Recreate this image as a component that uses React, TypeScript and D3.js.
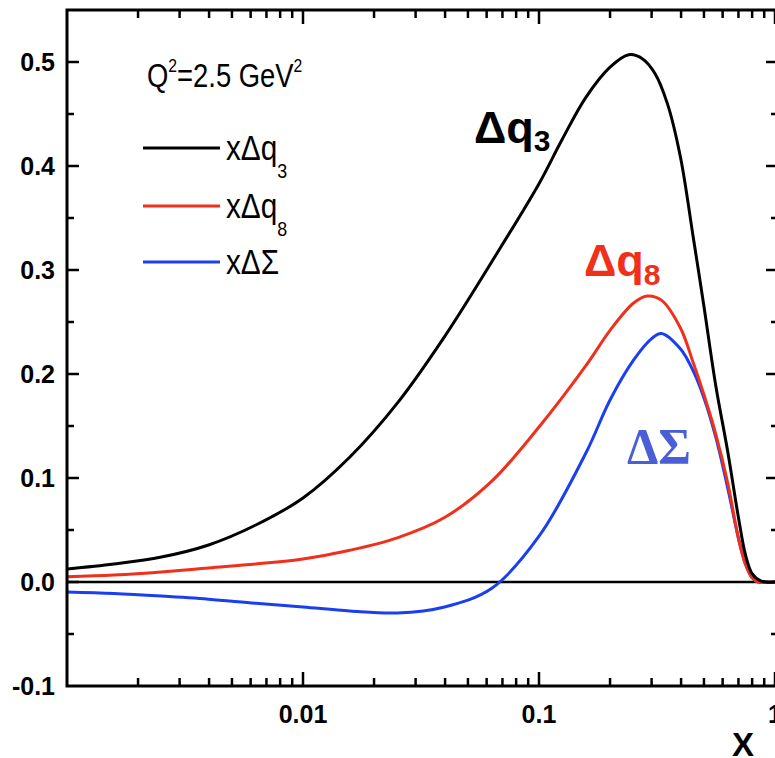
import React, { useEffect, useRef } from 'react';
import * as d3 from 'd3';

// x Δq3 (black)
const xQ3 = [0.001, 0.00158, 0.00251, 0.00398, 0.00631, 0.01, 0.0158, 0.0251, 0.0398, 0.0631, 0.1, 0.125, 0.158, 0.2, 0.24, 0.275, 0.31, 0.35, 0.398, 0.45, 0.5, 0.56, 0.631, 0.7, 0.75, 0.8, 0.87, 1];
const yQ3 = [0.0125, 0.0173, 0.024, 0.0356, 0.0548, 0.0808, 0.1202, 0.172, 0.236, 0.308, 0.383, 0.425, 0.466, 0.495, 0.507, 0.503, 0.489, 0.46, 0.408, 0.332, 0.265, 0.19, 0.125, 0.062, 0.026, 0.008, 0.001, 0];

// x Δq8 (red)
const xQ8 = [0.001, 0.00158, 0.00251, 0.00398, 0.00631, 0.01, 0.0158, 0.0251, 0.0398, 0.0631, 0.1, 0.158, 0.2, 0.251, 0.287, 0.33, 0.398, 0.45, 0.5, 0.56, 0.631, 0.7, 0.75, 0.8, 0.85, 1];
const yQ8 = [0.005, 0.0067, 0.0096, 0.0135, 0.0173, 0.0221, 0.0305, 0.0425, 0.062, 0.097, 0.149, 0.208, 0.242, 0.268, 0.275, 0.271, 0.244, 0.211, 0.18, 0.143, 0.095, 0.042, 0.017, 0.004, 0, 0];

// x ΔΣ (blue)
const xSig = [0.001, 0.00158, 0.00251, 0.00398, 0.00631, 0.01, 0.0158, 0.0251, 0.0398, 0.0631, 0.1, 0.158, 0.2, 0.251, 0.3, 0.33, 0.398, 0.45, 0.5, 0.56, 0.631, 0.7, 0.75, 0.8, 0.85, 1];
const ySig = [-0.0095, -0.011, -0.0135, -0.0165, -0.0205, -0.024, -0.0278, -0.0298, -0.024, -0.006, 0.044, 0.124, 0.175, 0.213, 0.234, 0.239, 0.224, 0.203, 0.177, 0.14, 0.09, 0.042, 0.017, 0.004, 0, 0];

const xLabels = ['0.01', '0.1', '1'];
const legendNames = ['3', '8', 'Σ'];
const colors = ['#000000', '#f0301a', '#1a3ff0'];

const W = 775;
const H = 758;

export default function App() {
  const ref = useRef<SVGSVGElement>(null);

  useEffect(() => {
    const svg = d3.select(ref.current);
    svg.selectAll('*').remove();

    const left = 67, right = 775, top = 10, bottom = 686;
    const x = d3.scaleLog().domain([0.001, 1]).range([left, right]);
    const y = d3.scaleLinear().domain([-0.1, 0.55]).range([bottom, top]);
    const font = 'Liberation Sans, Arial, sans-serif';

    // zero line
    svg.append('line')
      .attr('x1', left).attr('x2', right)
      .attr('y1', y(0)).attr('y2', y(0))
      .attr('stroke', '#000').attr('stroke-width', 2.5);

    // curves
    const line = d3.line<[number, number]>()
      .x(d => x(d[0]))
      .y(d => y(d[1]))
      .curve(d3.curveCatmullRom.alpha(0.5));
    const series = [
      d3.zip(xQ3, yQ3),
      d3.zip(xQ8, yQ8),
      d3.zip(xSig, ySig),
    ];
    [2, 1, 0].forEach(i => {
      svg.append('path')
        .attr('d', line(series[i] as [number, number][]))
        .attr('fill', 'none')
        .attr('stroke', colors[i])
        .attr('stroke-width', 3);
    });

    // frame
    const ax = svg.append('g').attr('stroke', '#000').attr('stroke-width', 3);
    ax.append('path')
      .attr('d', `M${right + 3},${top} H${left} V${bottom} H${right + 3} V${top}`)
      .attr('fill', 'none');

    // x ticks (log, minor + major), bottom and top
    x.ticks().forEach(v => {
      const major = Math.abs(Math.log10(v) - Math.round(Math.log10(v))) < 1e-6;
      const len = major ? 14 : 8;
      const px = x(v);
      if (px <= left + 1) return;
      ax.append('line').attr('x1', px).attr('x2', px).attr('y1', bottom).attr('y2', bottom - len).attr('stroke-width', 2.5);
      ax.append('line').attr('x1', px).attr('x2', px).attr('y1', top).attr('y2', top + len).attr('stroke-width', 2.5);
    });

    // y ticks, left and right
    d3.range(-2, 11).map(i => i * 0.05).forEach((v, i) => {
      const major = i % 2 === 0;
      const len = major ? 12 : 7;
      const py = y(v);
      if (py >= bottom - 1) return;
      ax.append('line').attr('x1', left).attr('x2', left + len).attr('y1', py).attr('y2', py).attr('stroke-width', 2.5);
      ax.append('line').attr('x1', right + 3).attr('x2', right + 3 - len).attr('y1', py).attr('y2', py).attr('stroke-width', 2.5);
    });

    // y tick labels
    d3.range(-1, 6).forEach(i => {
      svg.append('text')
        .attr('x', 55).attr('y', y(i / 10) + 9)
        .attr('text-anchor', 'end')
        .attr('font-family', font).attr('font-weight', 'bold').attr('font-size', 25)
        .text((i / 10).toFixed(1));
    });

    // x tick labels
    [0.01, 0.1, 1].forEach((v, i) => {
      svg.append('text')
        .attr('x', x(v)).attr('y', 723)
        .attr('text-anchor', 'middle')
        .attr('font-family', font).attr('font-weight', 'bold').attr('font-size', 25)
        .text(xLabels[i]);
    });

    svg.append('text')
      .attr('x', 743).attr('y', 756)
      .attr('text-anchor', 'middle')
      .attr('font-family', font).attr('font-weight', 'bold').attr('font-size', 33)
      .text('X');

    // Q^2 label
    const q = svg.append('text')
      .attr('transform', 'translate(147,87) scale(0.83,1)')
      .attr('font-family', font).attr('font-size', 33);
    q.append('tspan').text('Q');
    q.append('tspan').attr('dy', -15).attr('font-size', 19).text('2');
    q.append('tspan').attr('dy', 15).text('=2.5 GeV');
    q.append('tspan').attr('dy', -15).attr('font-size', 19).text('2');

    // legend
    [148, 206, 262].forEach((ly, i) => {
      svg.append('line')
        .attr('x1', 143).attr('x2', 220).attr('y1', ly).attr('y2', ly)
        .attr('stroke', colors[i]).attr('stroke-width', 3);
      const t = svg.append('text')
        .attr('transform', `translate(226,${ly + 12}) scale(0.85,1)`)
        .attr('font-family', font).attr('font-size', 35);
      if (i < 2) {
        t.append('tspan').text('xΔq');
        t.append('tspan').attr('dy', 18).attr('font-size', 21).text(legendNames[i]);
      } else {
        t.append('tspan').text('xΔΣ');
      }
    });

    // curve labels
    const l3 = svg.append('text')
      .attr('x', 474).attr('y', 143)
      .attr('font-family', font).attr('font-weight', 'bold').attr('font-size', 45);
    l3.append('tspan').text('Δq');
    l3.append('tspan').attr('dy', 8).attr('font-size', 30).text('3');

    const l8 = svg.append('text')
      .attr('x', 584).attr('y', 276)
      .attr('font-family', font).attr('font-weight', 'bold').attr('font-size', 45)
      .attr('fill', colors[1]);
    l8.append('tspan').text('Δq');
    l8.append('tspan').attr('dy', 9).attr('font-size', 30).text('8');

    svg.append('text')
      .attr('x', 627).attr('y', 463)
      .attr('font-family', 'Liberation Serif, Times New Roman, serif')
      .attr('font-weight', 'bold').attr('font-size', 50)
      .attr('fill', '#4a5ed6')
      .text('ΔΣ');
  }, []);

  return (
    <svg
      ref={ref}
      width={W}
      height={H}
      style={{ position: 'absolute', left: 0, top: 0, background: '#fff' }}
    />
  );
}
